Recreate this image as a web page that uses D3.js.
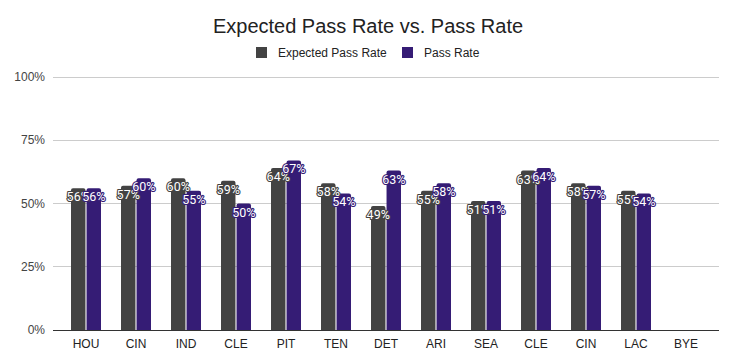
<!DOCTYPE html>
<html><head><meta charset="utf-8">
<script src="https://cdn.jsdelivr.net/npm/d3@7"></script>
<style>body{margin:0;background:#fff}svg{display:block}</style>
</head><body><div id="chart"></div>
<script>
const categories = ["HOU","CIN","IND","CLE","PIT","TEN","DET","ARI","SEA","CLE","CIN","LAC","BYE"];
const expectedPassRate = [56,57,60,59,64,58,49,55,51,63,58,55,null];
const passRate = [56,60,55,50,67,54,63,58,51,64,57,54,null];
const yTicks = [0,25,50,75,100];
const seriesNames = ["Expected Pass Rate","Pass Rate"];
const colors = ["#434343","#351c75"];

const W = 736, H = 364;
const svg = d3.select("#chart").append("svg").attr("width",W).attr("height",H);
const font = "Arial, 'Liberation Sans', sans-serif";

const x = d3.scaleBand().domain(d3.range(categories.length)).range([61,711]).paddingInner(0.4).paddingOuter(0.2);
const y = d3.scaleLinear().domain([0,100]).range([330,77]);

// gridlines
svg.append("g").selectAll("line").data(yTicks.filter(t=>t>0)).join("line")
  .attr("x1",53).attr("x2",719).attr("y1",d=>y(d)).attr("y2",d=>y(d))
  .attr("stroke","#cccccc").attr("stroke-width",1).attr("shape-rendering","crispEdges");

// y tick labels
svg.append("g").selectAll("text").data(yTicks).join("text")
  .attr("x",45).attr("y",d=>y(d)+4).attr("text-anchor","end")
  .attr("font-family",font).attr("font-size",12).attr("fill","#444")
  .text(d=>d+"%");

// bars
const inner = d3.scaleBand().domain([0,1]).range([0,x.bandwidth()]).paddingInner(0.07);
const series = [expectedPassRate, passRate];
const barW = inner.bandwidth();
function barPath(x0, y0, w, h, r){
  r = Math.min(r, h);
  return `M${x0},${y0+h}V${y0+r}Q${x0},${y0} ${x0+r},${y0}H${x0+w-r}Q${x0+w},${y0} ${x0+w},${y0+r}V${y0+h}Z`;
}
series.forEach((vals, s) => {
  svg.append("g").selectAll("path").data(vals.map((v,i)=>({v,i})).filter(d=>d.v!=null)).join("path")
    .attr("d", d => barPath(x(d.i)+inner(s), y(d.v), barW, y(0)-y(d.v), 2))
    .attr("fill", colors[s]);
});
// labels (dark first then purple so purple overlaps)
series.forEach((vals, s) => {
  svg.append("g").selectAll("text").data(vals.map((v,i)=>({v,i})).filter(d=>d.v!=null)).join("text")
    .attr("x", d => x(d.i)+inner(s)+barW/2)
    .attr("y", d => y(d.v)+13)
    .attr("text-anchor","middle")
    .attr("font-family","Roboto, Arial, sans-serif").attr("font-size",12.5)
    .attr("fill","#ffffff").attr("stroke",colors[s]).attr("stroke-width",2.2)
    .attr("stroke-linejoin","round").attr("paint-order","stroke")
    .text(d => d.v+"%");
});

// baseline
svg.append("line").attr("x1",53).attr("x2",719).attr("y1",y(0)).attr("y2",y(0))
  .attr("stroke","#333").attr("stroke-width",1).attr("shape-rendering","crispEdges");

// x labels
svg.append("g").selectAll("text").data(categories).join("text")
  .attr("x",(d,i)=>x(i)+x.bandwidth()/2).attr("y",348).attr("text-anchor","middle")
  .attr("font-family",font).attr("font-size",12).attr("fill","#222")
  .text(d=>d);

// title
svg.append("text").attr("x",368).attr("y",33).attr("text-anchor","middle")
  .attr("font-family",font).attr("font-size",20).attr("fill","#222")
  .text("Expected Pass Rate vs. Pass Rate");

// legend
const legX = [256, 402];
seriesNames.forEach((n,s)=>{
  svg.append("rect").attr("x",legX[s]).attr("y",47).attr("width",11).attr("height",11).attr("fill",colors[s]);
  svg.append("text").attr("x",legX[s]+22).attr("y",57).attr("font-family",font).attr("font-size",12)
    .attr("fill","#222").text(n);
});
</script></body></html>
